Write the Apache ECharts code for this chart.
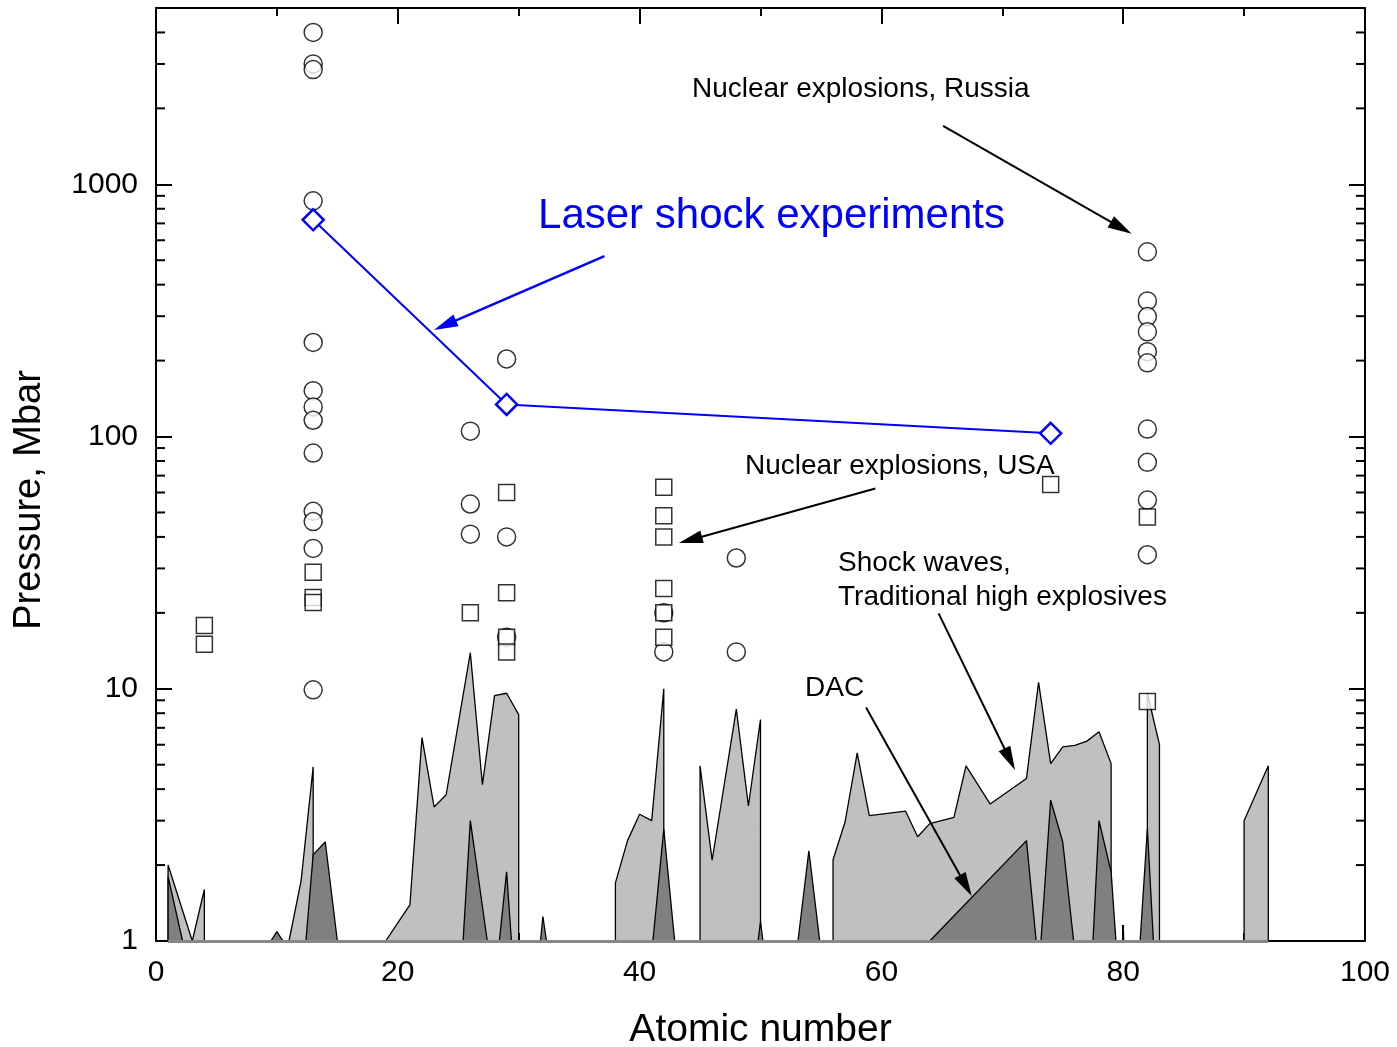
<!DOCTYPE html>
<html>
<head>
<meta charset="utf-8">
<script src="https://cdn.jsdelivr.net/npm/echarts@6/dist/echarts.min.js"></script>
<style>
html,body{margin:0;padding:0;background:#fff;}
#c{width:1397px;height:1047px;}
</style>
</head>
<body>
<div id="c"></div>
<script>
// ---------------- data ----------------
const xTickLabels = [0, 20, 40, 60, 80, 100];
const yTickLabels = [1, 10, 100, 1000];
const yMinorTickValues = [2,3,4,5,6,7,8,9, 20,30,40,50,60,70,80,90, 200,300,400,500,600,700,800,900, 2000,3000,4000];

// Nuclear explosions, Russia (circles): [atomic number, pressure Mbar]
const nuclearRussia = [
  [13,4000],[13,3000],[13,2850],[13,860],[13,236],[13,152],[13,131],[13,116],[13,86],
  [13,50.5],[13,46],[13,36],[13,9.9],
  [26,105],[26,54],[26,41],
  [29,203],[29,40],[29,16],
  [42,20],[42,14],
  [48,33],[48,14],
  [82,540],[82,345],[82,299],[82,260],[82,217],[82,196],[82,107],[82,79],[82,56],[82,34]
];

// Nuclear explosions, USA (squares)
const nuclearUSA = [
  [4,17.8],[4,15],
  [13,29],[13,23],[13,22],
  [26,20],
  [29,60],[29,24],[29,16],[29,14],
  [42,63],[42,48.5],[42,40],[42,25],[42,20],[42,16],
  [74,64.5],
  [82,48],[82,8.9]
];

// Laser shock experiments (blue diamonds)
const laserShock = [[13,723],[29,134],[74,103]];

// Shock waves, traditional high explosives (light grey areas)
const shockWaves = [
  [1,1],[1,2],[3,1],[4,1.6],[4,1],
  [11,1],[12,1.73],[13,4.9],[13,1],
  [19,1],[20,1.18],[21,1.39],[22,6.4],[23,3.4],[24,3.8],[26,13.9],[27,4.17],[28,9.4],[29,9.6],[30,7.9],[30,1],
  [38,1],[38,1.7],[39,2.5],[40,3.18],[41,3.0],[42,10],[42,1],
  [45,1],[45,4.95],[46,2.09],[48,8.3],[49,3.43],[50,7.55],[50,1],
  [56,1],[56,2.1],[57,2.97],[58,5.57],[59,3.14],[62,3.27],[63,2.59],[64,2.92],[66,3.09],[67,4.95],
  [69,3.49],[72,4.41],[73,10.6],[74,5.05],[75,5.88],[76,5.97],[77,6.2],[78,6.75],[79,5.05],[79,1],
  [82,1],[82,9.6],[83,6.0],[83,1],
  [90,1],[90,3.0],[92,4.95],[92,1]
];

// DAC (dark grey areas)
const dac = [
  [1,1],[1,1.8],[2.2,1],
  [9.5,1],[10,1.09],[10.5,1],
  [12.4,1],[13,2.2],[14,2.47],[15,1],
  [25.4,1],[26,3.0],[27.4,1],
  [28.4,1],[29,1.88],[29.4,1],
  [31.8,1],[32,1.25],[32.3,1],
  [41.1,1],[42,2.77],[42.9,1],
  [49.8,1],[50,1.19],[50.2,1],
  [53.1,1],[54,2.28],[54.9,1],
  [64,1],[72,2.5],[72.8,1],
  [73.2,1],[74,3.62],[75,2.47],[75.9,1],
  [77.5,1],[78,3.0],[79,1.88],[79.4,1],
  [79.95,1],[80,1.15],[80.05,1],
  [81.4,1],[82,2.78],[82.5,1]
];

// annotation texts and arrows, in data coordinates [Z, Mbar]
const annotationTexts = [
  {text:'Nuclear explosions, Russia', at:[44.33,2389], color:'#000', size:28},
  {text:'Laser shock experiments', at:[31.6,743], color:'#0000ff', size:42},
  {text:'Nuclear explosions, USA', at:[48.72,76.1], color:'#000', size:28},
  {text:'Shock waves,', at:[56.41,31.4], color:'#000', size:28},
  {text:'Traditional high explosives', at:[56.41,23.0], color:'#000', size:28},
  {text:'DAC', at:[53.68,10.05], color:'#000', size:28}
];
const annotationArrows = [
  {from:[65.1,1705], to:[80.7,637], color:'#000', width:2},
  {from:[37.09,519.5], to:[22.99,264.6], color:'#0000ff', width:2.5},
  {from:[59.5,62.2], to:[43.25,37.8], color:'#000', width:2},
  {from:[64.73,19.9], to:[71.05,4.76], color:'#000', width:2},
  {from:[58.73,8.43], to:[67.47,1.507], color:'#000', width:2}
];

// ---------------- chart ----------------
const FONT = '"Liberation Sans", Arial, Helvetica, sans-serif';
const X_MIN = 0, X_MAX = 100, X_INTERVAL = 20;
const Y_MIN = 1, Y_MAX = 5000;

const chart = echarts.init(document.getElementById('c'), null, {renderer:'canvas'});

const axisLineStyle = {color:'#000', width:2};
function xAxisCfg(pos, showLabel) {
  return {
    type:'value', min:X_MIN, max:X_MAX, interval:X_INTERVAL, position:pos,
    axisLine:{show:true, onZero:false, lineStyle:axisLineStyle},
    axisTick:{show:true, inside:true, length:16, lineStyle:{color:'#000', width:2}},
    minorTick:{show:true, splitNumber:2, length:8, lineStyle:{color:'#000', width:2}},
    splitLine:{show:false}, minorSplitLine:{show:false},
    axisLabel:{show:showLabel, fontSize:30, color:'#000', margin:17, fontFamily:FONT,
      formatter: v => xTickLabels.includes(v) ? String(v) : ''},
    name: showLabel ? 'Atomic number' : '',
    nameLocation:'middle', nameGap:70,
    nameTextStyle:{fontSize:39, color:'#000', fontFamily:FONT}
  };
}
function yAxisCfg(pos, showLabel) {
  return {
    type:'log', logBase:10, min:Y_MIN, max:Y_MAX, position:pos,
    axisLine:{show:true, onZero:false, lineStyle:axisLineStyle},
    axisTick:{show:true, inside:true, length:16, lineStyle:{color:'#000', width:2}},
    splitLine:{show:false},
    axisLabel:{show:showLabel, fontSize:30, color:'#000', margin:18, fontFamily:FONT,
      formatter: v => {
        const r = Math.round(v);
        return yTickLabels.includes(r) && Math.abs(v - r) < 1e-6 ? String(r) : '';
      }}
  };
}

const option = {
  animation:false,
  backgroundColor:'#fff',
  grid:{left:156, right:32, top:8, bottom:106, containLabel:false, outerBoundsMode:'none'},
  xAxis:[xAxisCfg('bottom', true), xAxisCfg('top', false)],
  yAxis:[yAxisCfg('left', true), yAxisCfg('right', false)],
  series:[
    {
      name:'Shock waves', type:'line', xAxisIndex:0, yAxisIndex:0,
      data:shockWaves, symbol:'none', smooth:false, silent:true, z:2,
      lineStyle:{color:'#000', width:1.3},
      areaStyle:{color:'#c0c0c0', opacity:1, origin:'start'}
    },
    {
      name:'DAC', type:'line', xAxisIndex:0, yAxisIndex:0,
      data:dac, symbol:'none', smooth:false, silent:true, z:3,
      lineStyle:{color:'#000', width:1.3},
      areaStyle:{color:'#808080', opacity:1, origin:'start'},
      markLine:{
        silent:true, symbol:'none', animation:false, label:{show:false},
        lineStyle:{color:'#888', width:3, type:'solid'},
        data:[[{coord:[shockWaves[0][0], Y_MIN]}, {coord:[shockWaves[shockWaves.length-1][0], Y_MIN]}]]
      }
    },
    {
      name:'Nuclear explosions, Russia', type:'scatter', data:nuclearRussia,
      symbol:'circle', symbolSize:18, silent:true, z:5,
      itemStyle:{color:'#fff', borderColor:'#000', borderWidth:1.5}
    },
    {
      name:'Nuclear explosions, USA', type:'scatter', data:nuclearUSA,
      symbol:'rect', symbolSize:16, silent:true, z:6,
      itemStyle:{color:'#fff', borderColor:'#000', borderWidth:1.5}
    },
    {
      name:'Laser shock experiments', type:'line', data:laserShock,
      symbol:'diamond', symbolSize:21, showSymbol:true, silent:true, z:7,
      lineStyle:{color:'#0000ff', width:2},
      itemStyle:{color:'#fff', borderColor:'#0000ff', borderWidth:2.5}
    },
    {
      name:'minorTicks', type:'custom', silent:true, z:8,
      data: yMinorTickValues.map(v => [X_MIN, v]),
      renderItem: function(params, api) {
        const v = api.value(1);
        const pL = api.coord([X_MIN, v]);
        const pR = api.coord([X_MAX, v]);
        return {type:'group', children:[
          {type:'line', shape:{x1:pL[0], y1:pL[1], x2:pL[0]+9, y2:pL[1]}, style:{stroke:'#000', lineWidth:2}},
          {type:'line', shape:{x1:pR[0], y1:pR[1], x2:pR[0]-9, y2:pR[1]}, style:{stroke:'#000', lineWidth:2}}
        ]};
      }
    }
  ]
};
chart.setOption(option);

// annotations positioned through the chart's own coordinate system
function px(p){ return chart.convertToPixel({xAxisIndex:0, yAxisIndex:0}, p); }
const elements = [];
annotationTexts.forEach(t => {
  const p = px(t.at);
  elements.push({type:'text', x:p[0], y:p[1], z:100, silent:true,
    style:{text:t.text, fill:t.color, font: t.size + 'px ' + FONT, align:'left', verticalAlign:'middle'}});
});
annotationArrows.forEach(a => {
  const s = px(a.from), e = px(a.to);
  const dx = e[0]-s[0], dy = e[1]-s[1], L = Math.hypot(dx, dy), ux = dx/L, uy = dy/L;
  const hl = 24, hw = 6.5;
  const bx = e[0]-ux*hl, by = e[1]-uy*hl;
  elements.push({type:'line', z:100, silent:true,
    shape:{x1:s[0], y1:s[1], x2:bx+ux*3, y2:by+uy*3}, style:{stroke:a.color, lineWidth:a.width}});
  elements.push({type:'polygon', z:100, silent:true,
    shape:{points:[[e[0],e[1]],[bx-uy*hw, by+ux*hw],[bx+uy*hw, by-ux*hw]]}, style:{fill:a.color}});
});
// y axis title
elements.push({type:'text', x:30, y:500, rotation:Math.PI/2, z:100, silent:true,
  style:{text:'Pressure, Mbar', fill:'#000', font:'38px ' + FONT, align:'center', verticalAlign:'middle'}});
chart.setOption({graphic:{elements:elements}});
</script>
</body>
</html>
